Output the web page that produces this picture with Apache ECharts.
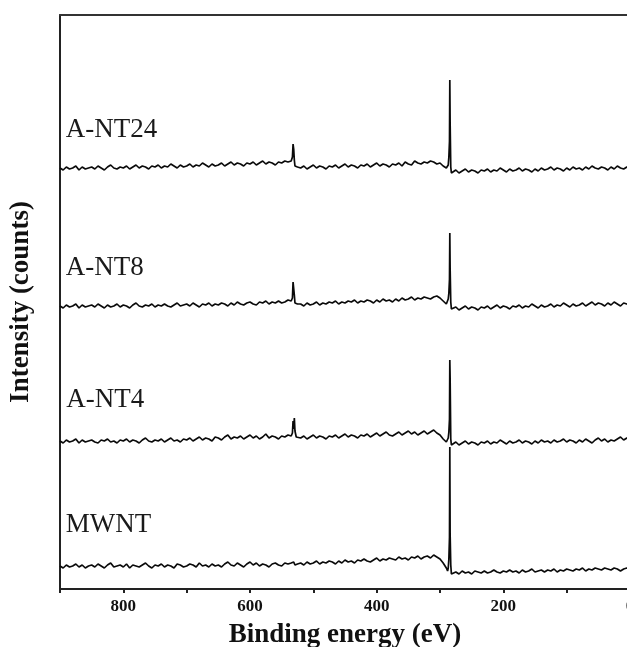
<!DOCTYPE html>
<html>
<head>
<meta charset="utf-8">
<script src="https://cdn.jsdelivr.net/npm/echarts@6/dist/echarts.min.js"></script>
<style>
html,body{margin:0;padding:0;background:#fff;}
#chart{width:627px;height:647px;}
</style>
</head>
<body>
<div id="chart"></div>
<script>
// Binding energy grid (eV), shared by all four spectra
const energy = [
  // 900 -> 540
  900,895,890,885,880,875,870,865,860,855,
  850,845,840,835,830,825,820,815,810,805,
  800,795,790,785,780,775,770,765,760,755,
  750,745,740,735,730,725,720,715,710,705,
  700,695,690,685,680,675,670,665,660,655,
  650,645,640,635,630,625,620,615,610,605,
  600,595,590,585,580,575,570,565,560,555,
  550,545,540,
  // O1s region
  535,533,532,531,530,529,527,525,
  // 520 -> 290
  520,515,510,505,500,495,490,485,480,475,
  470,465,460,455,450,445,440,435,430,425,
  420,415,410,405,400,395,390,385,380,375,
  370,365,360,355,350,345,340,335,330,325,
  320,315,310,305,300,295,290,
  // C1s region
  288,287,286,285,284.5,284,283,282,
  // 280 -> 0
  280,275,270,265,260,255,250,245,240,235,
  230,225,220,215,210,205,200,195,190,185,
  180,175,170,165,160,155,150,145,140,135,
  130,125,120,115,110,105,100,95,90,85,
  80,75,70,65,60,55,50,45,40,35,
  30,25,20,15,10,5,0
];

// Offset intensities (arbitrary counts, stacked)
const aNT24 = [
  421,419,422,420,421,423,419,422,420,421,
  422,420,423,421,419,422,424,421,420,422,
  421,423,420,422,424,421,423,422,420,423,
  422,424,421,423,422,425,423,421,424,422,
  423,425,422,424,423,426,424,422,425,423,
  424,426,423,425,427,424,426,425,423,426,
  425,427,424,426,428,425,427,426,424,427,
  426,428,427,
  428,432,445,440,429,423,421,422,
  421,423,420,422,424,421,423,422,420,423,
  422,424,421,423,425,422,424,423,421,424,
  423,425,422,424,426,423,425,424,422,425,
  424,426,423,427,425,424,428,426,425,427,
  426,428,427,425,426,423,421,
  421,424,432,448,509,467,422,416,
  417,419,416,418,420,417,419,418,416,419,
  418,420,417,419,418,421,419,417,420,418,
  419,421,418,420,419,417,420,418,421,419,
  420,422,419,421,420,418,421,419,422,420,
  421,419,422,420,423,421,420,422,421,419,
  422,420,423,421,420,422,421
];
const aNT8 = [
  283,281,284,282,283,285,281,284,282,283,
  284,282,285,283,281,284,282,283,285,282,
  284,283,281,284,286,283,282,284,283,285,
  282,284,283,285,283,282,284,286,283,284,
  285,283,286,284,282,285,284,286,283,285,
  284,286,285,283,286,284,287,285,284,286,
  287,285,284,287,286,288,285,287,286,288,
  286,287,289,
  288,291,307,306,294,286,284,285,
  285,283,286,284,285,287,284,286,285,287,
  286,288,285,287,286,288,287,289,286,288,
  287,289,288,286,289,287,290,288,289,287,
  290,288,291,289,290,292,289,291,290,292,
  291,290,292,293,291,288,285,
  287,290,296,310,356,321,287,280,
  280,282,279,281,283,280,282,281,279,282,
  281,283,280,282,284,281,283,282,280,283,
  282,284,281,283,282,285,283,281,284,282,
  283,285,282,284,283,286,284,282,285,283,
  284,286,283,285,287,284,286,285,283,286,
  284,287,285,283,286,285,284
];
const aNT4 = [
  148,146,149,147,148,150,146,149,147,148,
  149,147,146,149,148,150,147,148,146,149,
  148,150,147,149,148,146,149,151,148,147,
  149,148,150,147,149,151,148,149,147,150,
  149,151,148,150,152,149,151,150,148,152,
  151,149,152,154,150,152,151,153,150,152,
  154,151,153,150,152,155,151,153,152,150,
  153,152,154,
  153,156,168,160,171,158,152,150,
  151,153,150,152,154,151,153,152,150,153,
  152,154,151,153,155,152,154,153,151,154,
  153,155,152,154,156,153,155,157,154,153,
  155,157,154,156,158,155,157,154,156,158,
  155,157,159,156,154,150,147,
  148,151,157,170,229,211,150,144,
  145,147,144,146,148,145,147,146,144,147,
  146,148,145,147,146,149,147,145,148,146,
  147,149,146,148,147,145,148,146,149,147,
  148,146,149,147,148,150,147,149,148,146,
  149,147,150,148,146,149,151,148,150,147,
  149,148,150,152,149,151,149
];
const mwnt = [
  23,21,24,22,23,25,22,24,21,23,
  24,22,25,23,21,24,26,22,23,24,
  22,25,21,24,23,22,24,26,23,21,
  24,23,25,22,24,23,21,25,24,22,
  23,25,24,22,26,23,24,22,25,23,
  24,22,25,27,24,23,26,24,22,25,
  27,24,26,23,25,24,22,25,26,24,
  23,26,25,
  26,24,25,27,25,24,26,25,
  26,24,27,25,26,28,25,27,26,28,
  27,25,28,26,29,27,28,26,29,28,
  30,28,27,29,31,28,30,29,31,30,
  29,32,30,31,29,32,31,33,30,32,
  33,31,34,32,30,26,21,
  18,21,30,52,142,55,24,15,
  16,17,15,18,16,17,15,18,17,16,
  18,16,17,19,17,16,18,17,19,17,
  18,16,19,17,18,20,17,18,19,17,
  19,18,20,17,19,18,20,19,18,20,
  19,21,18,20,19,21,20,19,21,20,
  19,21,20,18,20,21,19
];

const seriesNames = ['A-NT24', 'A-NT8', 'A-NT4', 'MWNT'];
const seriesValues = [aNT24, aNT8, aNT4, mwnt];
// Label anchor positions [energy, intensity] for each spectrum name
const labelAnchors = [[891, 459], [891, 321], [890, 189], [891, 64]];

const xTicks = { min: 0, max: 900, interval: 100 };

const serif = '"Liberation Serif","DejaVu Serif","Times New Roman",serif';

const chart = echarts.init(document.getElementById('chart'), null, {renderer: 'canvas'});

const series = seriesNames.map((name, k) => ({
  name: name,
  type: 'line',
  data: energy.map((e, i) => [e, seriesValues[k][i]]),
  showSymbol: false,
  symbol: 'none',
  lineStyle: { color: '#0a0a0a', width: 1.7 },
  silent: true,
  markPoint: {
    symbol: 'circle',
    symbolSize: 0,
    silent: true,
    data: [{
      coord: labelAnchors[k],
      label: {
        show: true,
        formatter: name,
        position: [0, 0],
        align: 'left',
        verticalAlign: 'middle',
        color: '#1a1a1a',
        fontFamily: serif,
        fontSize: 27,
        fontWeight: 'normal'
      }
    }]
  }
}));

chart.setOption({
  animation: false,
  backgroundColor: '#fff',
  grid: { left: 60, width: 570, top: 15, bottom: 58, outerBoundsMode: 'none', containLabel: false },
  xAxis: [{
    type: 'value',
    position: 'bottom',
    min: xTicks.min, max: xTicks.max, interval: xTicks.interval,
    inverse: true,
    name: 'Binding energy (eV)',
    nameLocation: 'middle',
    nameGap: 33,
    nameTextStyle: { fontFamily: serif, fontSize: 27, fontWeight: 'bold', color: '#111' },
    axisLine: { show: true, lineStyle: { color: '#222', width: 2 } },
    axisTick: { show: true, inside: false, length: 4, lineStyle: { color: '#222', width: 2 } },
    axisLabel: {
      margin: 9,
      fontFamily: serif, fontSize: 17, fontWeight: 'bold', color: '#111',
      formatter: v => (v % 200 === 0 ? String(v) : '')
    },
    splitLine: { show: false }
  }, {
    type: 'value',
    position: 'top',
    min: xTicks.min, max: xTicks.max,
    inverse: true,
    axisLine: { show: true, onZero: false, lineStyle: { color: '#333', width: 2 } },
    axisTick: { show: false },
    axisLabel: { show: false },
    splitLine: { show: false }
  }],
  yAxis: {
    type: 'value',
    min: 0, max: 574,
    name: 'Intensity (counts)',
    nameLocation: 'middle',
    nameGap: 25,
    nameTextStyle: { fontFamily: serif, fontSize: 27, fontWeight: 'bold', color: '#111' },
    axisLine: { show: true, onZero: false, lineStyle: { color: '#222', width: 2 } },
    axisTick: { show: false },
    axisLabel: { show: false },
    splitLine: { show: false }
  },
  series: series
});
</script>
</body>
</html>
